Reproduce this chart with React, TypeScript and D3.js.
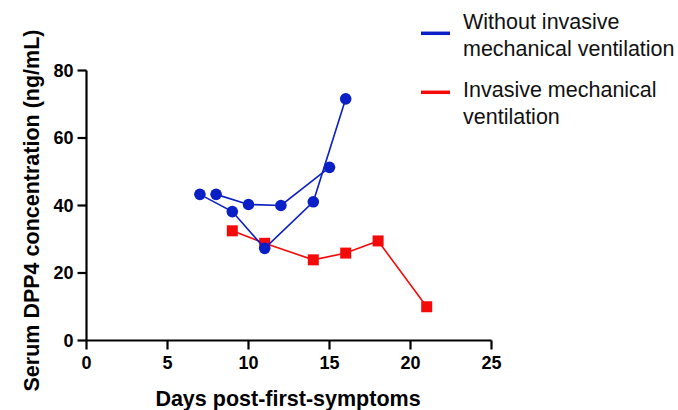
import React, { useRef, useEffect } from 'react';
import * as d3 from 'd3';

// two patients without invasive ventilation
const daysA = [7, 9, 11, 14, 16];
const dpp4A = [43.3, 38.2, 27.3, 41.1, 71.6];
const daysB = [8, 10, 12, 15];
const dpp4B = [43.3, 40.3, 40, 51.3];
// patient with invasive ventilation
const daysC = [9, 11, 14, 16, 18, 21];
const dpp4C = [32.5, 28.8, 23.9, 25.9, 29.5, 10];

const xTicks = [0, 5, 10, 15, 20, 25];
const yTicks = [0, 20, 40, 60, 80];

const BLUE = '#0b1fc6';
const RED = '#f50a0a';
const FONT = '"Liberation Sans", Arial, Helvetica, sans-serif';

const App = () => {
  const svgRef = useRef<SVGSVGElement>(null);

  useEffect(() => {
    const svg = d3.select(svgRef.current);
    svg.selectAll('*').remove();

    const x = d3.scaleLinear().domain([0, 25]).range([86.5, 491.5]);
    const y = d3.scaleLinear().domain([0, 80]).range([340.5, 70.5]);

    // axes drawn by hand so the tick text styling is fully ours
    const ax = svg.append('g').attr('stroke', '#000').attr('stroke-width', 2.2);
    ax.append('line').attr('x1', x(0)).attr('x2', x(25)).attr('y1', y(0)).attr('y2', y(0));
    ax.append('line').attr('x1', x(0)).attr('x2', x(0)).attr('y1', y(80)).attr('y2', y(0));
    ax.selectAll(null).data(xTicks).enter().append('line')
      .attr('x1', d => x(d)).attr('x2', d => x(d))
      .attr('y1', y(0)).attr('y2', y(0) + 9);
    ax.selectAll(null).data(yTicks).enter().append('line')
      .attr('x1', x(0) - 9).attr('x2', x(0))
      .attr('y1', d => y(d)).attr('y2', d => y(d));

    svg.selectAll(null).data(xTicks).enter().append('text')
      .attr('x', d => x(d))
      .attr('y', y(0) + 28.5)
      .attr('text-anchor', 'middle')
      .attr('font-family', FONT)
      .attr('font-size', 18)
      .attr('font-weight', 'bold')
      .text(d => d);
    svg.selectAll(null).data(yTicks).enter().append('text')
      .attr('x', x(0) - 13)
      .attr('y', d => y(d) + 6.3)
      .attr('text-anchor', 'end')
      .attr('font-family', FONT)
      .attr('font-size', 18)
      .attr('font-weight', 'bold')
      .text(d => d);

    const line = d3.line<[number, number]>().x(d => x(d[0])).y(d => y(d[1]));

    const series = [
      { xs: daysC, ys: dpp4C, color: RED, shape: 'square' },
      { xs: daysA, ys: dpp4A, color: BLUE, shape: 'circle' },
      { xs: daysB, ys: dpp4B, color: BLUE, shape: 'circle' },
    ];

    series.forEach(s => {
      const pts: [number, number][] = s.xs.map((d, i) => [d, s.ys[i]]);
      svg.append('path')
        .datum(pts)
        .attr('d', line)
        .attr('fill', 'none')
        .attr('stroke', s.color)
        .attr('stroke-width', 1.6);
      if (s.shape === 'circle') {
        svg.selectAll(null)
          .data(pts)
          .enter().append('circle')
          .attr('cx', d => x(d[0]))
          .attr('cy', d => y(d[1]))
          .attr('r', 5.8)
          .attr('fill', s.color);
      } else {
        svg.selectAll(null)
          .data(pts)
          .enter().append('rect')
          .attr('x', d => x(d[0]) - 5.5)
          .attr('y', d => y(d[1]) - 5.5)
          .attr('width', 11)
          .attr('height', 11)
          .attr('fill', s.color);
      }
    });

    // axis titles
    svg.append('text')
      .attr('x', 288)
      .attr('y', 406)
      .attr('text-anchor', 'middle')
      .attr('font-family', FONT)
      .attr('font-size', 21.5)
      .attr('font-weight', 'bold')
      .text('Days post-first-symptoms');

    svg.append('text')
      .attr('transform', 'translate(39,210.5) rotate(-90)')
      .attr('text-anchor', 'middle')
      .attr('font-family', FONT)
      .attr('font-size', 21.5)
      .attr('font-weight', 'bold')
      .text('Serum DPP4 concentration (ng/mL)');

    // legend
    const legend = [
      { color: BLUE, lines: ['Without invasive', 'mechanical ventilation'], y: 33.3, ty: 29 },
      { color: RED, lines: ['Invasive mechanical', 'ventilation'], y: 92.3, ty: 97 },
    ];
    legend.forEach(l => {
      svg.append('line')
        .attr('x1', 421).attr('x2', 450)
        .attr('y1', l.y).attr('y2', l.y)
        .attr('stroke', l.color)
        .attr('stroke-width', 3.5);
      l.lines.forEach((t, i) => {
        svg.append('text')
          .attr('x', 463)
          .attr('y', l.ty + i * 26.5)
          .attr('font-family', FONT)
          .attr('font-size', 21.5)
          .attr('fill', '#111')
          .text(t);
      });
    });
  }, []);

  return (
    <svg ref={svgRef} width={678} height={410}
      style={{ position: 'absolute', left: 0, top: 0, background: '#fff' }}></svg>
  );
};

export default App;
